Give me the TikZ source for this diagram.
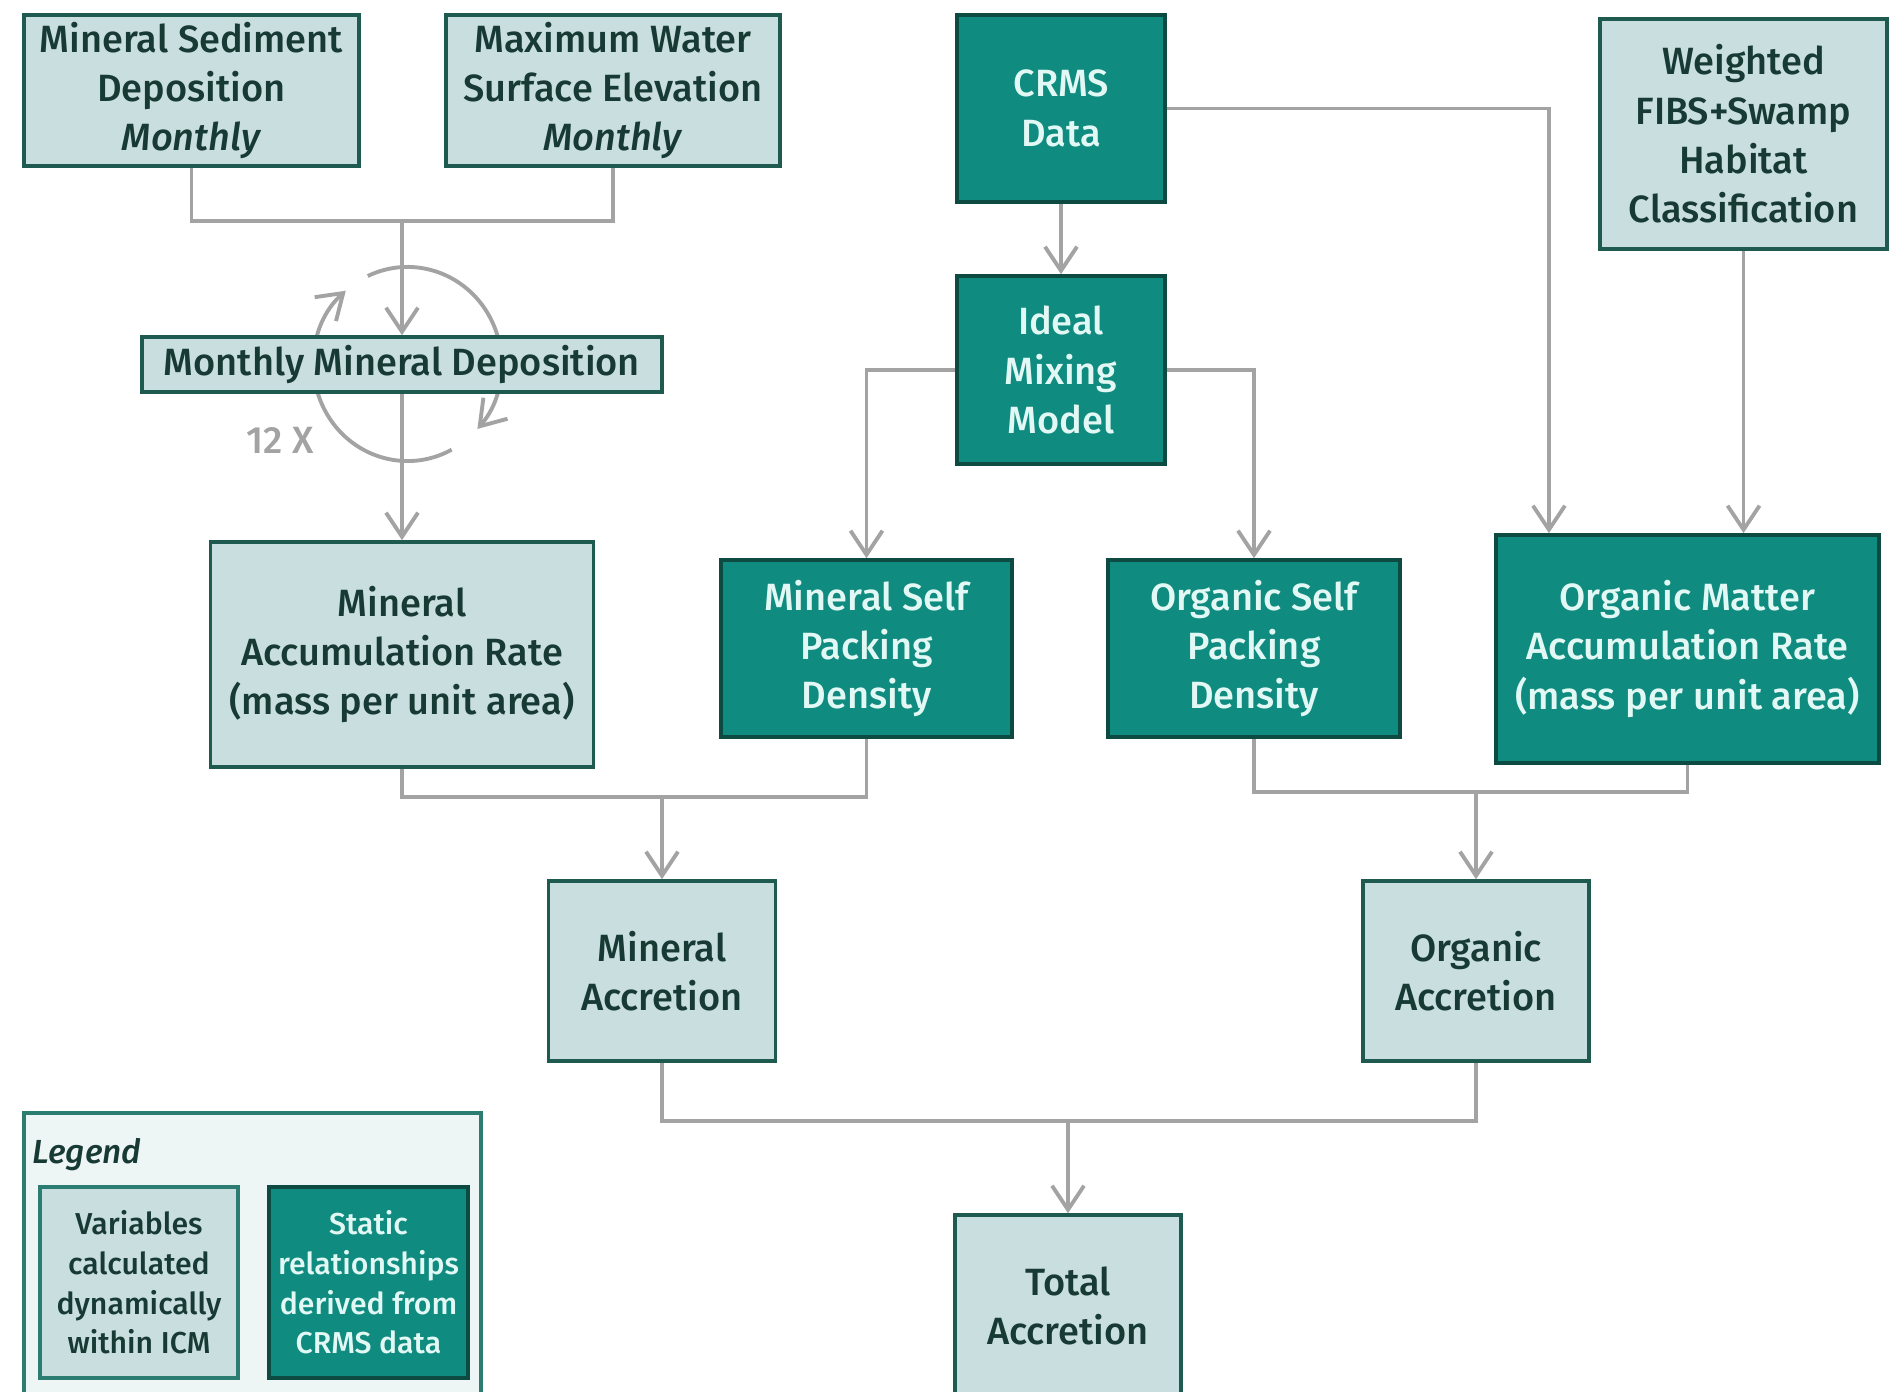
\documentclass[tikz,border=0pt]{standalone}
\usepackage{fontspec}
\setmainfont{Fira Sans}[UprightFont={* Medium},ItalicFont={* Medium Italic}]
\usetikzlibrary{arrows.meta}
\pgfdeclarelayer{background}
\pgfsetlayers{background,main}
\definecolor{lightfill}{HTML}{C9DEDE}
\definecolor{lightdraw}{HTML}{1F5A50}
\definecolor{darkfill}{HTML}{0F8B7F}
\definecolor{darkdraw}{HTML}{0C4A42}
\definecolor{darktext}{HTML}{173A34}
\definecolor{lighttext}{HTML}{E2F8F4}
\definecolor{linegray}{HTML}{A3A3A3}
\definecolor{legfill}{HTML}{EEF5F5}
\definecolor{legdraw}{HTML}{2A7D70}
\begin{document}
\begin{tikzpicture}[x=0.01cm,y=-0.01cm,
  boxfont/.style={font=\fontsize{10.8}{14}\selectfont},
  lightbox/.style={draw=lightdraw, fill=lightfill, line width=1pt, text=darktext, align=center, inner sep=0pt, boxfont},
  darkbox/.style={draw=darkdraw, fill=darkfill, line width=1pt, text=lighttext, align=center, inner sep=0pt, boxfont},
  legfont/.style={font=\fontsize{8.6}{11.3}\selectfont},
  conn/.style={draw=linegray, line width=1.1pt},
  arr/.style={conn, -{Straight Barb[length=2.4mm,width=3.2mm]}}
]
\useasboundingbox (0,0) rectangle (1901,1392);

% boxes
\node[lightbox, minimum width=3.35cm, minimum height=1.51cm] (msd) at (191.5,90.5) {Mineral Sediment\\Deposition\\\textit{Monthly}};
\node[lightbox, minimum width=3.34cm, minimum height=1.51cm] (mws) at (613,90.5) {Maximum Water\\Surface Elevation\\\textit{Monthly}};
\node[darkbox, minimum width=2.08cm, minimum height=1.87cm] (crms) at (1061,108.5) {CRMS\\Data};
\node[lightbox, minimum width=2.87cm, minimum height=2.30cm] (wfibs) at (1743.5,134) {Weighted\\FIBS+Swamp\\Habitat\\Classification};
\node[lightbox, minimum width=5.20cm, minimum height=0.55cm] (mmd) at (402,364.5) {Monthly Mineral Deposition};
\node[darkbox, minimum width=2.08cm, minimum height=1.88cm] (imm) at (1061,370) {Ideal\\Mixing\\Model};
\node[lightbox, minimum width=3.83cm, minimum height=2.25cm] (mar) at (402,654.5) {Mineral\\Accumulation Rate\\(mass per unit area)};
\node[darkbox, minimum width=2.91cm, minimum height=1.77cm] (mspd) at (866.5,648.5) {Mineral Self\\Packing\\Density};
\node[darkbox, minimum width=2.92cm, minimum height=1.77cm] (ospd) at (1254,648.5) {Organic Self\\Packing\\Density};
\node[darkbox, minimum width=3.83cm, minimum height=2.28cm] (omar) at (1687.5,649) {Organic Matter\\Accumulation Rate\\(mass per unit area)};
\node[lightbox, minimum width=2.27cm, minimum height=1.80cm] (minacc) at (662,971) {Mineral\\Accretion};
\node[lightbox, minimum width=2.26cm, minimum height=1.80cm] (orgacc) at (1476,971) {Organic\\Accretion};
\node[lightbox, minimum width=2.26cm, minimum height=1.82cm] (total) at (1068,1306) {Total\\Accretion};

\node[text=linegray, font=\fontsize{10.8}{12}\selectfont] (twelve) at (280,440) {12 X};

% legend
\node[draw=legdraw, fill=legfill, line width=1pt, minimum width=4.57cm, minimum height=2.90cm, inner sep=0pt] (legend) at (252.5,1258) {};
\node[anchor=west, text=darktext, inner sep=0pt, font=\fontsize{9.5}{11}\selectfont\itshape] (legtitle) at (32,1155) {Legend};
\node[lightbox, draw=legdraw, legfont, minimum width=1.98cm, minimum height=1.91cm] (leg1) at (139,1282.5) {Variables\\calculated\\dynamically\\within ICM};
\node[darkbox, legfont, minimum width=1.99cm, minimum height=1.91cm] (leg2) at (368.5,1282.5) {Static\\relationships\\derived from\\CRMS data};

% junctions
\coordinate (j1) at (402,221);
\coordinate (j2) at (662,797);
\coordinate (j3) at (1476,792);
\coordinate (j4) at (1068,1121);
\coordinate (cc) at (407.5,364);

\begin{pgfonlayer}{background}
\fill[white] (0,0) rectangle (1901,1392);
\draw[conn] (msd.south) |- (j1) -| (mws.south);
\draw[arr] (j1) -- (mmd.north);
\draw[arr] (mmd.south) -- (mar.north);
\draw[arr] (cc) ++(115:0.94cm and 0.97cm) arc[start angle=115, end angle=-42, x radius=0.94cm, y radius=0.97cm];
\draw[arr] (cc) ++(-62:0.94cm and 0.97cm) arc[start angle=-62, end angle=-229, x radius=0.94cm, y radius=0.97cm];
\draw[arr] (crms.south) -- (imm.north);
\draw[arr] (crms.east) -| ([xshift=-1.385cm]omar.north);
\draw[arr] (wfibs.south) -- (wfibs.south |- omar.north);
\draw[arr] (imm.west) -| (mspd.north);
\draw[arr] (imm.east) -| (ospd.north);
\draw[conn] (mar.south) |- (j2) -| (mspd.south);
\draw[arr] (j2) -- (minacc.north);
\draw[conn] (ospd.south) |- (j3) -| (omar.south);
\draw[arr] (j3) -- (orgacc.north);
\draw[conn] (minacc.south) |- (j4) -| (orgacc.south);
\draw[arr] (j4) -- (total.north);
\end{pgfonlayer}
\end{tikzpicture}
\end{document}
